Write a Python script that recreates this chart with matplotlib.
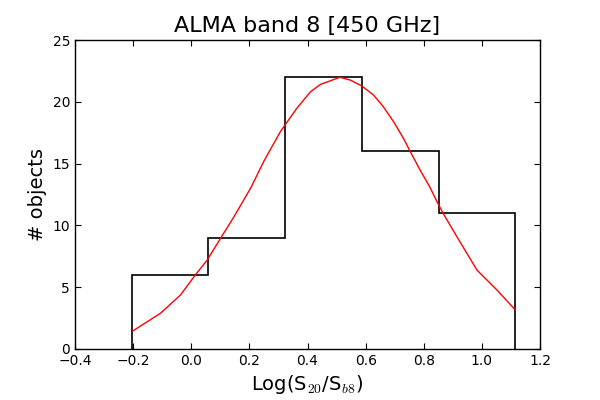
import matplotlib
matplotlib.use("Agg")
import matplotlib.pyplot as plt

# Histogram data
bin_edges = [-0.205, 0.059, 0.323, 0.587, 0.851, 1.115]
counts = [6, 9, 22, 16, 11]

# Red fitted curve
curve_x = [-0.201, -0.106, -0.037, 0.014, 0.055, 0.101, 0.147, 0.204, 0.25, 0.307,
           0.364, 0.41, 0.444, 0.511, 0.547, 0.587, 0.627, 0.661, 0.696, 0.730,
           0.753, 0.787, 0.821, 0.846, 0.866, 0.914, 0.983, 1.052, 1.115]
curve_y = [1.46, 2.89, 4.37, 5.99, 7.2, 8.96, 10.7, 13.0, 15.2, 17.6,
           19.5, 20.8, 21.4, 21.98, 21.76, 21.28, 20.55, 19.6, 18.4, 17.05,
           16.0, 14.5, 13.1, 11.9, 11.0, 9.09, 6.39, 4.77, 3.16]

plt.rcParams['mathtext.fontset'] = 'cm'
plt.rcParams['font.family'] = ['DejaVu Sans']

fig = plt.figure(figsize=(6, 4), dpi=100)
ax = fig.add_axes([0.125, 0.1275, 0.775, 0.7725])

ax.stairs(counts, bin_edges, color='black', linewidth=1.2, baseline=0)
ax.plot(curve_x, curve_y, color='red', linewidth=1.0)

ax.set_xlim(-0.4, 1.2)
ax.set_ylim(0, 25)
ax.set_xticks([-0.4, -0.2, 0.0, 0.2, 0.4, 0.6, 0.8, 1.0, 1.2])
ax.set_yticks([0, 5, 10, 15, 20, 25])
ax.tick_params(direction='in', top=True, right=True, labelsize=10, length=4)
for s in ax.spines.values():
    s.set_linewidth(1.0)

ax.set_title('ALMA band 8 [450 GHz]', fontsize=16)
ax.set_xlabel(r'Log(S$_{20}$/S$_{b8}$)', fontsize=14)
ax.set_ylabel('# objects', fontsize=14)

fig.savefig('out.png', dpi=100, facecolor='white')
